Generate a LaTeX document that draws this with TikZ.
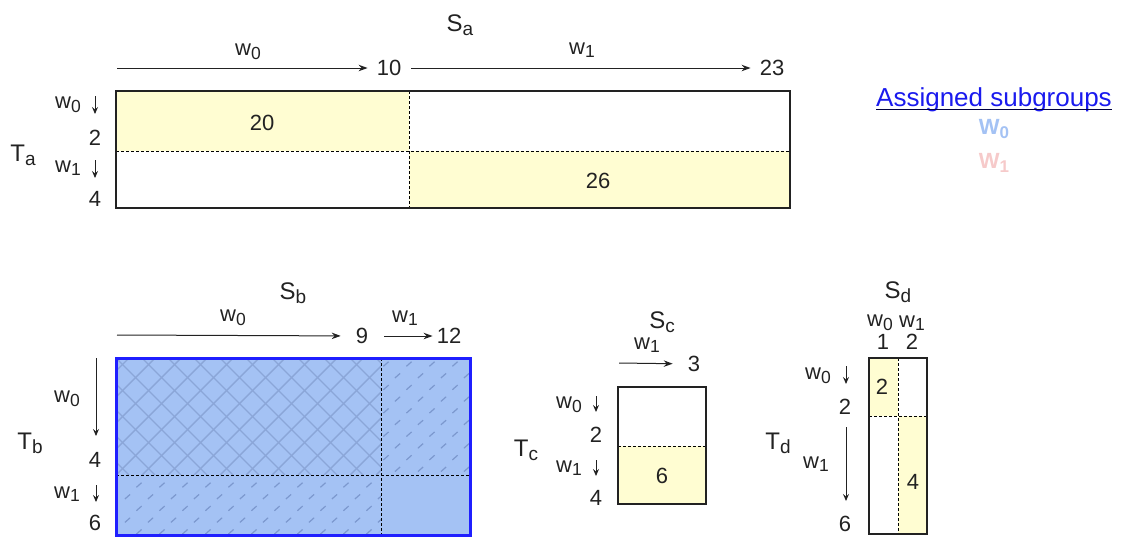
\documentclass[tikz,border=0pt]{standalone}
\usepackage{fontspec}
\setmainfont{Liberation Sans}
\usetikzlibrary{arrows.meta}
\definecolor{cellyellow}{HTML}{FFFDD2}
\definecolor{assignblue}{HTML}{A4C2F4}
\definecolor{hatchblue}{HTML}{8BA6D8}
\definecolor{dashblue}{HTML}{7C98CE}
\definecolor{edgeblue}{HTML}{1F1FFF}
\definecolor{legendpink}{HTML}{F6CACA}
\definecolor{linkblue}{HTML}{1A1AEE}
\definecolor{ink}{HTML}{222222}
% lowered index used in all labels
\newcommand{\lsub}[1]{\raisebox{-0.3ex}{\fontsize{17.5}{18}\selectfont #1}}
\newcommand{\tsub}[1]{\raisebox{-0.3ex}{\fontsize{19}{20}\selectfont #1}}
\newcommand{\bsub}[1]{\raisebox{-0.35ex}{\fontsize{17}{18}\selectfont\bfseries #1}}
\begin{document}
\begin{tikzpicture}[x=1pt,y=-1pt,
  every node/.style={inner sep=0pt, text=ink, font=\fontsize{22}{25}\selectfont},
  tlabel/.style={font=\fontsize{24}{27}\selectfont},
  legw/.style={anchor=base, font=\fontsize{22}{24}\selectfont\bfseries},
  box/.style={draw=ink, line width=1.2pt},
  divider/.style={draw=black, line width=1pt, dash pattern=on 3pt off 2pt},
  arr/.style={draw=ink, line width=1pt, -{Stealth[length=9pt,width=6.5pt,inset=3pt]}},
  downarr/.style={draw=ink, line width=1pt, -{Stealth[length=7pt,width=6pt,inset=2.5pt]}},
  cross/.style={draw=hatchblue, line width=1.4pt},
  tick/.style={draw=dashblue, line width=1.2pt}]
\useasboundingbox (0,0) rectangle (1126,536);

% ===== block a =====
\fill[cellyellow] (116,91) rectangle (409,151);
\fill[cellyellow] (409,151) rectangle (790,208);
\draw[divider] (116,151) -- (790,151);
\draw[divider] (409,91) -- (409,208);
\draw[box] (116,91) rectangle (790,208);
\node (na20) at (262,123) {20};
\node (na26) at (598,181) {26};

\node[tlabel] (Sa) at (460,25) {S\tsub{a}};
\node (aw0) at (248,52) {w\lsub{0}};
\node (aw1) at (582,50) {w\lsub{1}};
\coordinate (as0) at (117,68);
\node (a10) at (389,68) {10};
\node (a23) at (772,68) {23};
\draw[arr, shorten >=9pt] (as0) -- (a10);
\draw[arr, shorten <=10pt, shorten >=9pt] (a10) -- (a23);

\node[tlabel] (Ta) at (23,155) {T\tsub{a}};
\node[anchor=east] (law0) at (81,105) {w\lsub{0}};
\coordinate (lad0s) at (95,96);
\coordinate (lad0e) at (95,114);
\draw[downarr] (lad0s) -- (lad0e);
\node (la2) at (95,138) {2};
\node[anchor=east] (law1) at (81,168) {w\lsub{1}};
\coordinate (lad1s) at (95,160);
\coordinate (lad1e) at (95,178);
\draw[downarr] (lad1s) -- (lad1e);
\node (la4) at (95,199) {4};

% ===== legend =====
\node[anchor=base, text=linkblue, font=\fontsize{26}{29}\selectfont] (leg) at (994,106) {Assigned subgroups};
\draw[black!75!blue, line width=1pt] ([yshift=-3pt]leg.base west) -- ([yshift=-3pt]leg.base east);
\node[legw, text=assignblue] (legw0) at (994,134) {W\bsub{0}};
\node[legw, text=legendpink] (legw1) at (994,168) {W\bsub{1}};

% ===== block b =====
\fill[assignblue] (116,358) rectangle (470,535);
% cross hatching: w0 rows against w0 columns
\begin{scope}
  \clip (116,358) rectangle (381,475);
  \foreach \i in {-6,...,12} {
    \draw[cross] (116+26*\i,358) -- (233+26*\i,475);
    \draw[cross] (116+26*\i,475) -- (233+26*\i,358);
  }
\end{scope}
% short slanted ticks: mixed w0/w1 cells
\begin{scope}
  \clip (381,358) rectangle (470,475);
  \foreach \r in {0,...,10} {
    \foreach \c in {0,...,4} {
      \pgfmathsetmacro{\tx}{386+23*\c+11.5*mod(\r,2)}
      \pgfmathsetmacro{\ty}{364+11.7*\r}
      \draw[tick] (\tx-2.6,\ty+2.3) -- (\tx+2.6,\ty-2.3);
    }
  }
\end{scope}
\begin{scope}
  \clip (116,475) rectangle (381,535);
  \foreach \r in {0,...,5} {
    \foreach \c in {0,...,12} {
      \pgfmathsetmacro{\tx}{139+23*\c-11.5*mod(\r,2)}
      \pgfmathsetmacro{\ty}{485+11.7*\r}
      \draw[tick] (\tx-2.6,\ty+2.3) -- (\tx+2.6,\ty-2.3);
    }
  }
\end{scope}
\draw[divider] (381,358) -- (381,535);
\draw[divider] (116,475) -- (470,475);
\draw[edgeblue, line width=3pt] (116,358) rectangle (470,535);

\node[tlabel] (Sb) at (293,293) {S\tsub{b}};
\node (bw0) at (233,318) {w\lsub{0}};
\node (bw1) at (405,318) {w\lsub{1}};
\coordinate (bs0) at (117,335);
\node (b9) at (362,336) {9};
\node (b12) at (449,336) {12};
\draw[arr, shorten >=15pt] (bs0) -- (b9);
\draw[arr, shorten <=16pt, shorten >=4pt] (b9) -- (b12);

\node[tlabel] (Tb) at (30,443) {T\tsub{b}};
\coordinate (lbd0s) at (96,358);
\coordinate (lbd0e) at (96,436);
\draw[downarr] (lbd0s) -- (lbd0e);
\node[anchor=east] (lbw0) at (80,399) {w\lsub{0}};
\node (lb4) at (95,460) {4};
\node[anchor=east] (lbw1) at (80,494) {w\lsub{1}};
\coordinate (lbd1s) at (96,485);
\coordinate (lbd1e) at (96,502);
\draw[downarr] (lbd1s) -- (lbd1e);
\node (lb6) at (95,523) {6};

% ===== block c =====
\fill[cellyellow] (618,446) rectangle (706,504);
\draw[divider] (618,446) -- (706,446);
\draw[box] (618,387) rectangle (706,504);
\node (nc6) at (662,476) {6};

\node[tlabel] (Sc) at (662,322) {S\tsub{c}};
\node (cw1) at (647,345) {w\lsub{1}};
\coordinate (cs0) at (619,363);
\node (c3) at (694,364) {3};
\draw[arr, shorten >=15pt] (cs0) -- (c3);

\node[tlabel] (Tc) at (526,450) {T\tsub{c}};
\node[anchor=east] (lcw0) at (582,405) {w\lsub{0}};
\coordinate (lcd0s) at (596,396);
\coordinate (lcd0e) at (596,412);
\draw[downarr] (lcd0s) -- (lcd0e);
\node (lc2) at (596,435) {2};
\node[anchor=east] (lcw1) at (582,468) {w\lsub{1}};
\coordinate (lcd1s) at (596,460);
\coordinate (lcd1e) at (596,476);
\draw[downarr] (lcd1s) -- (lcd1e);
\node (lc4) at (596,498) {4};

% ===== block d =====
\fill[cellyellow] (869,358) rectangle (898,416);
\fill[cellyellow] (898,416) rectangle (927,534);
\draw[divider] (898,358) -- (898,534);
\draw[divider] (869,416) -- (927,416);
\draw[box] (869,358) rectangle (927,534);
\node (nd2) at (882,387) {2};
\node (nd4) at (913,482) {4};

\node[tlabel] (Sd) at (898,292) {S\tsub{d}};
\node (dw0) at (880,323) {w\lsub{0}};
\node (dw1) at (912,323) {w\lsub{1}};
\node (d1) at (883,342) {1};
\node (d2) at (912,342) {2};

\node[tlabel] (Td) at (778,443) {T\tsub{d}};
\node[anchor=east] (ldw0) at (831,376) {w\lsub{0}};
\coordinate (ldd0s) at (846,366);
\coordinate (ldd0e) at (846,384);
\draw[downarr] (ldd0s) -- (ldd0e);
\node (ld2) at (845,407) {2};
\coordinate (ldd1s) at (846,427);
\coordinate (ldd1e) at (846,501);
\draw[downarr] (ldd1s) -- (ldd1e);
\node[anchor=east] (ldw1) at (829,464) {w\lsub{1}};
\node (ld6) at (845,524) {6};
\end{tikzpicture}
\end{document}
